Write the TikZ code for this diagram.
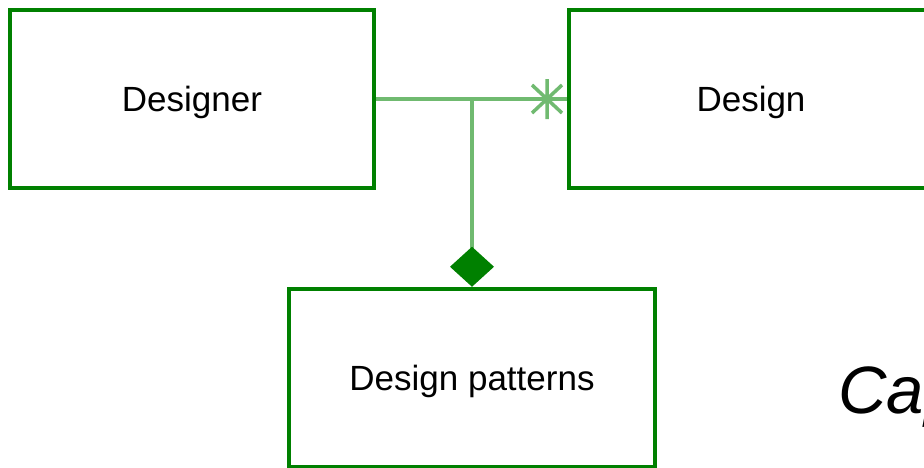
\documentclass[tikz,border=0pt]{standalone}
\usepackage{fontspec}
\setmainfont{Liberation Sans}
\usetikzlibrary{arrows.meta}
\definecolor{umlgreen}{RGB}{0,128,0}
\definecolor{linkgreen}{RGB}{112,186,112}
\begin{document}
\begin{tikzpicture}[x=1pt,y=-1pt,
		class/.style={draw=umlgreen, line width=4.5pt, minimum width=364pt, minimum height=178pt,
			font=\fontsize{35}{40}\selectfont, text height=25pt, text depth=0pt, inner sep=0pt},
		link/.style={draw=linkgreen, line width=3.5pt}]
		\useasboundingbox (0,0) rectangle (924,467);
		\fill[white] (0,0) rectangle (924,467);

		\node[class] (designer) at (192,99) {Designer};
		\node[class] (design) at (751,99) {Design};
		\node[class, minimum width=366pt] (patterns) at (472,378) {Design patterns};

		\coordinate (join) at (472,99);
		\coordinate (many) at (547,99);

		\draw[link] (designer.east) -- (design.west);
		\draw[link, -{Diamond[length=40pt, width=44pt, color=umlgreen]}] (join) -- (patterns.north);
		\draw[link, shift={(many)}] (0,-20) -- (0,20) (-15,-14) -- (15,14) (-15,14) -- (15,-14);

		\node[anchor=base west, font=\fontsize{67}{70}\selectfont\itshape] (caption) at (835,413) {Cap};
	\end{tikzpicture}
\end{document}
